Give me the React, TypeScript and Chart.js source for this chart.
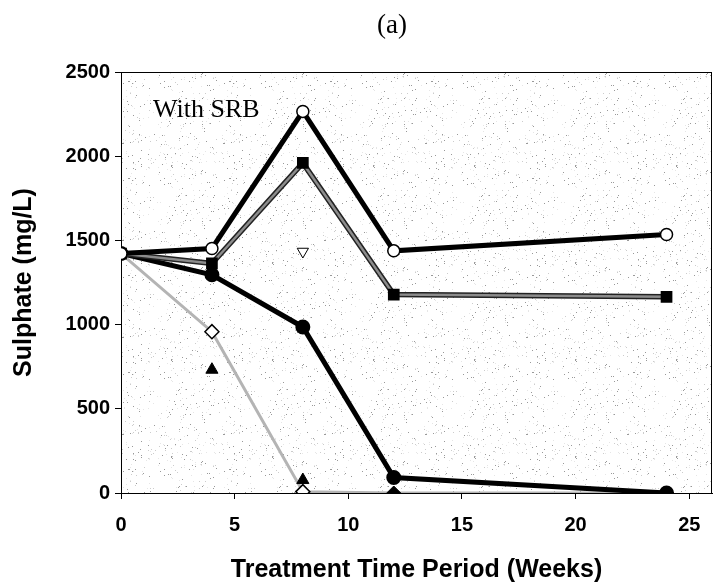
import React, { useEffect, useRef } from 'react';
import { Chart, registerables } from 'chart.js';
Chart.register(...registerables);

// ---- data ----
const weeks = [0, 4, 8, 12, 24];
const openCircle = [1422, 1452, 2266, 1438, 1535];
const filledSquare = [1422, 1363, 1960, 1178, 1165];
const filledCircle = [1422, 1296, 986, 92, 0];
const openDiamond = [1422, 958, 8, 0, 0];
const triangleWeeks = [4, 8];
const filledTriangle = [732, 77];
const invTriangleWeeks = [8];
const openInvTriangle = [1434];
const filledDiamondWeeks = [12, 24];
const filledDiamond = [0, 0];
const xTicks = [0, 5, 10, 15, 20, 25];
const yTicks = [0, 500, 1000, 1500, 2000, 2500];

const W = 713;
const H = 586;

const pts = (xs: number[], ys: number[]) => xs.map((x, i) => ({ x, y: ys[i] }));

function makePattern(ctx: CanvasRenderingContext2D) {
  const c = document.createElement('canvas');
  c.width = 101;
  c.height = 97;
  const g = c.getContext('2d')!;
  g.fillStyle = '#ffffff';
  g.fillRect(0, 0, c.width, c.height);
  let s = 12345;
  const rnd = () => {
    s = (s * 1103515245 + 12345) % 2147483648;
    return s / 2147483648;
  };
  for (let i = 0; i < 320; i++) {
    const x = Math.floor(rnd() * c.width);
    const y = Math.floor(rnd() * c.height);
    const t = rnd();
    g.fillStyle = t < 0.35 ? '#999999' : t < 0.65 ? '#cccccc' : '#e6e6e6';
    g.fillRect(x, y, 1, 1);
  }
  return ctx.createPattern(c, 'repeat');
}

const decorPlugin = {
  id: 'decor',
  beforeDatasetsDraw(chart: any) {
    const { ctx, chartArea: a } = chart;
    ctx.save();
    const p = makePattern(ctx);
    if (p) {
      ctx.fillStyle = p;
      ctx.fillRect(a.left, a.top, a.right - a.left, a.bottom - a.top);
    }
    ctx.strokeStyle = '#000';
    ctx.lineWidth = 1;
    ctx.strokeRect(a.left + 0.5, a.top + 0.5, a.right - a.left - 1, a.bottom - a.top);
    ctx.fillStyle = '#000';
    ctx.font = '26px "Liberation Serif", "Times New Roman", serif';
    ctx.textBaseline = 'alphabetic';
    ctx.textAlign = 'left';
    ctx.fillText('With SRB', 153, 117);
    ctx.restore();
  },
  afterDraw(chart: any) {
    const { ctx } = chart;
    ctx.save();
    ctx.fillStyle = '#000';
    ctx.font = '27px "Liberation Serif", "Times New Roman", serif';
    ctx.textAlign = 'center';
    ctx.textBaseline = 'middle';
    ctx.fillText('(a)', 392, 26);
    ctx.restore();
  },
};

export default function App() {
  const ref = useRef<HTMLCanvasElement>(null);
  useEffect(() => {
    if (!ref.current) return;
    const bold = (size: number, lineHeight?: number) => ({
      family: 'Arial, "Liberation Sans", sans-serif',
      size,
      weight: 'bold' as const,
      ...(lineHeight ? { lineHeight } : {}),
    });
    const chart = new Chart(ref.current, {
      type: 'line',
      data: {
        datasets: [
          {
            data: pts(weeks, openCircle),
            borderColor: '#000',
            borderWidth: 5,
            pointStyle: 'circle',
            pointRadius: 6,
            pointBackgroundColor: '#fff',
            pointBorderColor: '#000',
            pointBorderWidth: 1.5,
            tension: 0,
          },
          {
            data: pts(weeks, filledSquare),
            borderColor: '#8c8c8c',
            borderWidth: 2.5,
            pointStyle: 'rect',
            pointRadius: 6.5,
            pointBackgroundColor: '#000',
            pointBorderColor: '#000',
            tension: 0,
          },
          {
            data: pts(weeks, filledSquare),
            borderColor: '#222',
            borderWidth: 5.5,
            pointRadius: 0,
            tension: 0,
          },
          {
            data: pts(weeks, filledCircle),
            borderColor: '#000',
            borderWidth: 5,
            pointStyle: 'circle',
            pointRadius: 5,
            pointBackgroundColor: '#000',
            pointBorderColor: '#000',
            tension: 0,
          },
          {
            data: pts(invTriangleWeeks, openInvTriangle),
            showLine: false,
            pointStyle: 'triangle',
            rotation: 180,
            pointRadius: 6.5,
            pointBackgroundColor: '#fff',
            pointBorderColor: '#000',
            pointBorderWidth: 1,
          },
          {
            data: pts(triangleWeeks, filledTriangle),
            showLine: false,
            pointStyle: 'triangle',
            pointRadius: 7,
            pointBackgroundColor: '#000',
            pointBorderColor: '#000',
          },
          {
            data: pts(filledDiamondWeeks, filledDiamond),
            showLine: false,
            pointStyle: 'rectRot',
            pointRadius: 7,
            pointBackgroundColor: '#000',
            pointBorderColor: '#000',
          },
          {
            data: pts(weeks, openDiamond),
            borderColor: '#b4b4b4',
            borderWidth: 3,
            pointStyle: 'rectRot',
            pointRadius: [0, 7, 7, 0, 0],
            pointBackgroundColor: '#fff',
            pointBorderColor: '#000',
            pointBorderWidth: 1.5,
            tension: 0,
          },
        ],
      },
      options: {
        animation: false,
        responsive: false,
        layout: { autoPadding: false, padding: { top: 72, right: 1, left: 0, bottom: 0 } },
        plugins: { legend: { display: false }, tooltip: { enabled: false }, title: { display: false } },
        scales: {
          x: {
            type: 'linear',
            min: 0,
            max: 26,
            afterBuildTicks: (s: any) => {
              s.ticks = xTicks.map((v) => ({ value: v }));
            },
            afterFit: (s: any) => {
              s.height = H - 493;
              s.paddingRight = 0;
              s.paddingLeft = 0;
            },
            ticks: { color: '#000', font: bold(20), padding: 14, maxRotation: 0, callback: (v: any) => String(v) },
            grid: { display: true, drawOnChartArea: false, drawTicks: true, tickLength: 6, color: '#000' },
            border: { display: true, color: '#000', width: 1 },
            title: {
              display: true,
              text: 'Treatment Time Period (Weeks)',
              color: '#000',
              font: bold(25, 32 / 25),
              padding: { top: 0, bottom: 0 },
            },
          },
          y: {
            min: 0,
            max: 2500,
            afterBuildTicks: (s: any) => {
              s.ticks = yTicks.map((v) => ({ value: v }));
            },
            afterFit: (s: any) => {
              s.width = 121;
            },
            ticks: { color: '#000', font: bold(20), padding: 5, callback: (v: any) => String(v) },
            grid: { display: true, drawOnChartArea: false, drawTicks: true, tickLength: 6, color: '#000' },
            border: { display: true, color: '#000', width: 1 },
            title: {
              display: true,
              text: 'Sulphate (mg/L)',
              color: '#000',
              font: bold(25, 48 / 25),
              padding: { top: 0, bottom: 0 },
            },
          },
        },
      },
      plugins: [decorPlugin],
    });
    return () => chart.destroy();
  }, []);
  return (
    <div style={{ position: 'fixed', left: 0, top: 0, width: W, height: H, background: '#fff' }}>
      <canvas ref={ref} width={W} height={H} style={{ width: W, height: H }} />
    </div>
  );
}
